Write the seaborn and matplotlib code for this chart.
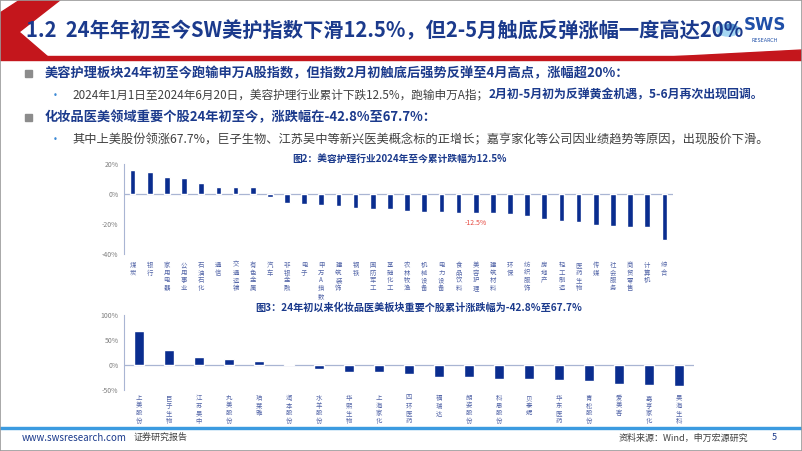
import matplotlib
matplotlib.use("Agg")
import matplotlib.pyplot as plt
import numpy as np
import pandas as pd
import seaborn as sns
from matplotlib.patches import Circle, Polygon, Rectangle

# ---- data ----
industries = [
    "煤炭", "银行", "家用电器", "公用事业", "石油石化", "通信", "交通运输", "有色金属",
    "汽车", "非银金融", "电子", "申万A指数", "建筑装饰", "钢铁", "国防军工", "基础化工",
    "农林牧渔", "机械设备", "电力设备", "食品饮料", "美容护理", "建筑材料", "环保", "纺织服饰",
    "房地产", "轻工制造", "医药生物", "传媒", "社会服务", "商贸零售", "计算机", "综合",
]
industry_returns = [
    16.3, 14.7, 11.1, 10.5, 7.1, 4.7, 4.5, 4.5,
    -2.0, -5.8, -6.7, -7.5, -7.8, -9.1, -10.0, -10.2,
    -11.1, -11.8, -12.2, -12.6, -12.5, -12.9, -13.3, -14.4,
    -16.7, -18.2, -18.9, -20.7, -21.3, -21.8, -22.2, -30.9,
]
highlight_industry = "美容护理"

stocks = [
    "上美股份", "巨子生物", "江苏吴中", "丸美股份", "珀莱雅", "润本股份", "水羊股份",
    "华熙生物", "上海家化", "四环医药", "福瑞达", "朗姿股份", "科思股份", "贝泰妮",
    "华东医药", "青松股份", "爱美客", "嘉亨家化", "昊海生科",
]
stock_returns = [
    67.7, 30.7, 14.7, 12.0, 8.0, 1.3, -8.7,
    -14.0, -14.0, -18.0, -24.0, -25.3, -29.3, -29.3,
    -30.7, -33.3, -39.3, -41.5, -42.8,
]

page_title = "1.2  24年年初至今SW美护指数下滑12.5%，但2-5月触底反弹涨幅一度高达20%"
bullet1 = "美容护理板块24年初至今跑输申万A股指数，但指数2月初触底后强势反弹至4月高点，涨幅超20%："
bullet2_plain = "2024年1月1日至2024年6月20日，美容护理行业累计下跌12.5%，跑输申万A指；"
bullet2_bold = "2月初-5月初为反弹黄金机遇，5-6月再次出现回调。"
bullet3 = "化妆品医美领域重要个股24年初至今，涨跌幅在-42.8%至67.7%："
bullet4 = "其中上美股份领涨67.7%，巨子生物、江苏吴中等新兴医美概念标的正增长；嘉亨家化等公司因业绩趋势等原因，出现股价下滑。"
chart1_title = "图2：美容护理行业2024年至今累计跌幅为12.5%"
chart2_title = "图3：24年初以来化妆品医美板块重要个股累计涨跌幅为-42.8%至67.7%"

# ---- style ----
NAVY = "#1b3a8c"
BAR = "#0a2d8f"
AXIS = "#a9b5d3"
RED = "#c4161c"
GREY_TXT = "#404040"
TICK_TXT = "#7f7f7f"
CAT_TXT = "#5466a8"

W, H = 802, 451


def fx(x):
    return x / W


def fy(y):
    return 1 - y / H


sns.set_theme(style="white")
plt.rcParams["font.family"] = ["Noto Sans CJK SC", "DejaVu Sans"]
plt.rcParams["axes.unicode_minus"] = False

fig = plt.figure(figsize=(W / 100, H / 100), dpi=100)
fig.patch.set_facecolor("white")

# ---- header ----
fig.patches.append(Polygon(
    [(fx(0), fy(13)), (fx(20), fy(0)), (fx(60), fy(0)), (fx(19), fy(32)),
     (fx(48), fy(57)), (fx(0), fy(57))],
    closed=True, transform=fig.transFigure, color=RED, zorder=1))
fig.patches.append(Rectangle((0, fy(60)), 1, 3.5 / H, transform=fig.transFigure,
                             color=RED, zorder=1))
fig.patches.append(Polygon(
    [(fx(668), fy(57)), (fx(802), fy(50)), (fx(802), fy(60)), (fx(668), fy(60))],
    closed=True, transform=fig.transFigure, color=RED, zorder=1))

# logo
fig.patches.append(Circle((fx(728), fy(30)), 12 / W, transform=fig.transFigure,
                          facecolor="#5bb6e8", edgecolor="none", alpha=0.55, zorder=1))
fig.patches.append(Circle((fx(731), fy(27)), 6 / W, transform=fig.transFigure,
                          facecolor="#1e5fb3", edgecolor="none", alpha=0.6, zorder=1))

fig.text(fx(26), fy(31), page_title, fontsize=14.6, fontweight="bold", color=NAVY,
         va="center", ha="left", zorder=3)
fig.text(fx(744), fy(25), "SWS", fontsize=12, fontweight="bold", color="#1f4fa8",
         va="center", ha="left", family=["DejaVu Sans"], zorder=4)
fig.text(fx(752), fy(40), "RESEARCH", fontsize=3.5, color="#1f4fa8",
         va="center", ha="left", family=["DejaVu Sans"], zorder=4)

# ---- bullets ----
for yy in (73, 117):
    fig.patches.append(Rectangle((fx(25), fy(yy + 4)), 7 / W, 7 / H,
                                 transform=fig.transFigure, color="#8c8c8c"))
for yy in (95, 140):
    fig.text(fx(53), fy(yy), "•", fontsize=6, color="#3d8ad6", va="center",
             family=["DejaVu Sans"])

fig.text(fx(45), fy(73), bullet1, fontsize=9.5, fontweight="bold", color=NAVY, va="center")
t_plain = fig.text(fx(72), fy(95), bullet2_plain, fontsize=8.4, color=GREY_TXT, va="center")
fig.text(fx(45), fy(117), bullet3, fontsize=9.5, fontweight="bold", color=NAVY, va="center")
fig.text(fx(72), fy(140), bullet4, fontsize=8.8, color=GREY_TXT, va="center")

fig.canvas.draw()
bb = t_plain.get_window_extent(renderer=fig.canvas.get_renderer())
fig.text(bb.x1 / fig.bbox.width, fy(95), bullet2_bold, fontsize=8.6, fontweight="bold",
         color=NAVY, va="center")


def style_axis(ax, labels, ymin, ymax, yticks, pad):
    ax.set_xlim(-0.5, len(labels) - 0.5)
    ax.set_ylim(ymin, ymax)
    ax.set_yticks(yticks)
    ax.set_yticklabels([f"{v}%" for v in yticks])
    ax.set_xticks(range(len(labels)))
    ax.set_xticklabels(["\n".join(lab) for lab in labels], fontsize=4.6, color=CAT_TXT,
                       linespacing=0.95, va="top")
    ax.tick_params(axis="x", length=0, pad=pad)
    ax.tick_params(axis="y", length=2, width=0.6, color=AXIS, labelsize=5,
                   labelcolor=TICK_TXT, pad=2)
    for side in ("top", "right", "bottom"):
        ax.spines[side].set_visible(False)
    ax.spines["left"].set_color(AXIS)
    ax.spines["left"].set_linewidth(0.8)
    ax.axhline(0, color=AXIS, lw=0.9, zorder=0)
    ax.set_xlabel("")
    ax.set_ylabel("")
    ax.set_facecolor("none")


# ---- chart 1 ----
df1 = pd.DataFrame({"industry": industries, "ret": industry_returns})
ax1 = fig.add_axes([fx(124), fy(254), 549 / W, 90 / H])
sns.barplot(data=df1, x="industry", y="ret", color=BAR, saturation=1, width=0.33, ax=ax1)
style_axis(ax1, industries, -40, 20, [-40, -20, 0, 20], pad=5)
hi = industries.index(highlight_industry)
ax1.text(hi, industry_returns[hi] - 4, f"{industry_returns[hi]}%", color="#e5483f",
         fontsize=5, ha="center", va="top")
fig.text(fx(399), fy(160), chart1_title, fontsize=7, fontweight="bold", color=NAVY,
         ha="center", va="center")

# ---- chart 2 ----
df2 = pd.DataFrame({"stock": stocks, "ret": stock_returns})
ax2 = fig.add_axes([fx(124), fy(389.7), 570 / W, 74.7 / H])
sns.barplot(data=df2, x="stock", y="ret", color=BAR, saturation=1, width=0.31, ax=ax2)
style_axis(ax2, stocks, -50, 100, [-50, 0, 50, 100], pad=3)
fig.text(fx(419), fy(308), chart2_title, fontsize=7.3, fontweight="bold", color=NAVY,
         ha="center", va="center")

# ---- footer ----
fig.patches.append(Rectangle((0, fy(429)), 1, 1.6 / H, transform=fig.transFigure,
                             color="#3b9be0"))
fig.text(fx(22), fy(438), "www.swsresearch.com", fontsize=7, color=NAVY, va="center")
fig.text(fx(134), fy(437), "证券研究报告", fontsize=6.5, color=GREY_TXT, va="center")
fig.text(fx(748), fy(438), "资料来源：Wind，申万宏源研究", fontsize=6.5, color=GREY_TXT,
         va="center", ha="right")
fig.text(fx(772), fy(437), "5", fontsize=6.5, color=NAVY, va="center")

# page frame
fig.patches.append(Rectangle((0, 0), 1, 1, transform=fig.transFigure, fill=False,
                             edgecolor="#9a9a9a", lw=1.2))

fig.savefig("out.png", dpi=100)
plt.close(fig)
